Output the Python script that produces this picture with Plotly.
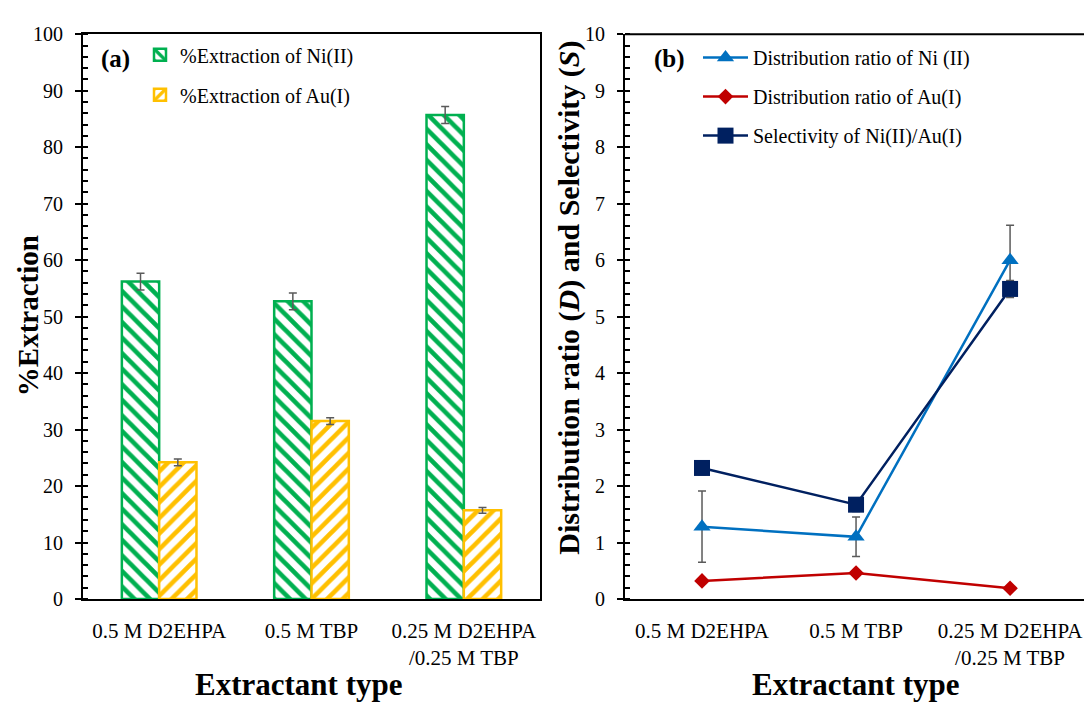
import plotly.graph_objects as go

# Extractant systems (shared category axis of both panels)
extractants = ["0.5 M D2EHPA", "0.5 M TBP", "0.25 M D2EHPA<br>/0.25 M TBP"]

# Panel (a): % extraction with standard deviations
ext_ni = [56.2, 52.7, 85.7]
ext_ni_err = [1.5, 1.5, 1.5]
ext_au = [24.2, 31.5, 15.7]
ext_au_err = [0.6, 0.6, 0.5]

# Panel (b): distribution ratios and selectivity
d_ni = [1.28, 1.1, 6.0]
d_ni_err = [0.63, 0.35, 0.62]
d_au = [0.32, 0.46, 0.19]
sel = [2.32, 1.67, 5.49]
sel_err = [0.12, 0.12, 0.15]

GREEN = "#00B050"
YELLOW = "#FFC000"
LBLUE = "#0070C0"
RED = "#C00000"
NAVY = "#002060"
ERRC = "#5A5A5A"
FONT = "Liberation Serif"

W, H = 1084, 702


def px(x):
    return x / W


def py(y):
    return (H - y) / H


fig = go.Figure()

err_style = dict(type="data", color=ERRC, thickness=1.5, width=4, visible=True)

fig.add_trace(go.Bar(
    x=extractants, y=ext_ni, name="%Extraction of Ni(II)",
    xaxis="x", yaxis="y", legend="legend", legendgroup="ni",
    marker=dict(color="white", line=dict(color=GREEN, width=2.5),
                pattern=dict(shape="\\", fgcolor=GREEN, bgcolor="white",
                             fgopacity=1, size=11, solidity=0.42)),
    error_y=dict(array=ext_ni_err, **err_style),
))
fig.add_trace(go.Bar(
    x=extractants, y=ext_au, name="%Extraction of Au(I)",
    xaxis="x", yaxis="y", legend="legend", legendgroup="au",
    marker=dict(color="white", line=dict(color=YELLOW, width=2.5),
                pattern=dict(shape="/", fgcolor=YELLOW, bgcolor="white",
                             fgopacity=1, size=11, solidity=0.42)),
    error_y=dict(array=ext_au_err, **err_style),
))

fig.add_trace(go.Scatter(
    x=extractants, y=d_ni, name="Distribution ratio of Ni (II)",
    xaxis="x2", yaxis="y2", legend="legend2", legendgroup="dni",
    mode="lines+markers",
    line=dict(color=LBLUE, width=2.5),
    marker=dict(symbol="triangle-up", size=15, color=LBLUE),
    error_y=dict(array=d_ni_err, **err_style),
))
fig.add_trace(go.Scatter(
    x=extractants, y=d_au, name="Distribution ratio of Au(I)",
    xaxis="x2", yaxis="y2", legend="legend2", legendgroup="dau",
    mode="lines+markers",
    line=dict(color=RED, width=2.5),
    marker=dict(symbol="diamond", size=12, color=RED),
))
fig.add_trace(go.Scatter(
    x=extractants, y=sel, name="Selectivity of Ni(II)/Au(I)",
    xaxis="x2", yaxis="y2", legend="legend2", legendgroup="sel",
    mode="lines+markers",
    line=dict(color=NAVY, width=2.5),
    marker=dict(symbol="square", size=16, color=NAVY),
    error_y=dict(array=sel_err, **err_style),
))

tick_font = dict(family=FONT, size=20, color="black")

xa_common = dict(
    type="category", showline=True, linecolor="black", linewidth=2,
    ticks="", showgrid=False, zeroline=False,
    tickfont=dict(family=FONT, size=21, color="black"),
    range=[-0.5, 2.5], ticklabelstandoff=12,
)
ya_common = dict(
    showline=True, linecolor="black", linewidth=2, showgrid=False,
    zeroline=False, ticks="outside", ticklen=6, tickwidth=1.5,
    tickcolor="black", tickfont=tick_font, ticklabelstandoff=8,
)

fig.update_layout(
    width=W, height=H,
    margin=dict(l=0, r=0, t=0, b=0),
    paper_bgcolor="white", plot_bgcolor="white",
    font=dict(family=FONT, color="black"),
    barmode="group", bargap=0.51, bargroupgap=0,
    xaxis=dict(domain=[px(83), px(540)], anchor="y", mirror=True, **xa_common),
    yaxis=dict(domain=[py(607), py(24)], anchor="x", range=[0, 100],
               dtick=10, mirror=True,
               minor=dict(dtick=2, ticks="inside", ticklen=5, tickcolor="black",
                          tickwidth=1.5),
               **ya_common),
    xaxis2=dict(domain=[px(625), 1.0], anchor="y2", mirror=False,
                **{**xa_common, "range": [-0.5, 2.48]}),
    yaxis2=dict(domain=[py(607), py(24)], anchor="x2", range=[0, 10],
                dtick=1, mirror=False,
                minor=dict(dtick=0.2, ticks="inside", ticklen=5, tickcolor="black",
                           tickwidth=1.5),
                **ya_common),
    legend=dict(x=px(140), y=py(25), xanchor="left", yanchor="top",
                font=dict(family=FONT, size=20), bgcolor="rgba(0,0,0,0)",
                tracegroupgap=11, traceorder="grouped"),
    legend2=dict(x=px(698), y=py(28), xanchor="left", yanchor="top",
                 font=dict(family=FONT, size=20), bgcolor="rgba(0,0,0,0)",
                 tracegroupgap=10, traceorder="grouped", itemwidth=45),
    showlegend=True,
)

# Top border of panel (b) (its right side runs off the page)
fig.add_shape(type="line", xref="paper", yref="paper",
              x0=px(625), x1=1.0, y0=py(24), y1=py(24),
              line=dict(color="black", width=2))

annotations = [
    dict(text="<b>(a)</b>", x=px(115), y=py(50)),
    dict(text="<b>(b)</b>", x=px(669), y=py(50)),
    dict(text="<b>%Extraction</b>", x=px(28), y=py(315), textangle=-90,
         font=dict(family=FONT, size=29, color="black")),
    dict(text="<b>Distribution ratio (<i>D</i>) and Selectivity (<i>S</i>)</b>",
         x=px(569), y=py(296), textangle=-90,
         font=dict(family=FONT, size=30, color="black")),
    dict(text="<b>Extractant type</b>", x=px(298), y=py(695),
         font=dict(family=FONT, size=31, color="black")),
    dict(text="<b>Extractant type</b>", x=px(855), y=py(695),
         font=dict(family=FONT, size=31, color="black")),
]
for a in annotations:
    a.setdefault("font", dict(family=FONT, size=25, color="black"))
    fig.add_annotation(xref="paper", yref="paper", showarrow=False,
                       xanchor="center", yanchor="middle", **a)

fig.write_html("out.html")
